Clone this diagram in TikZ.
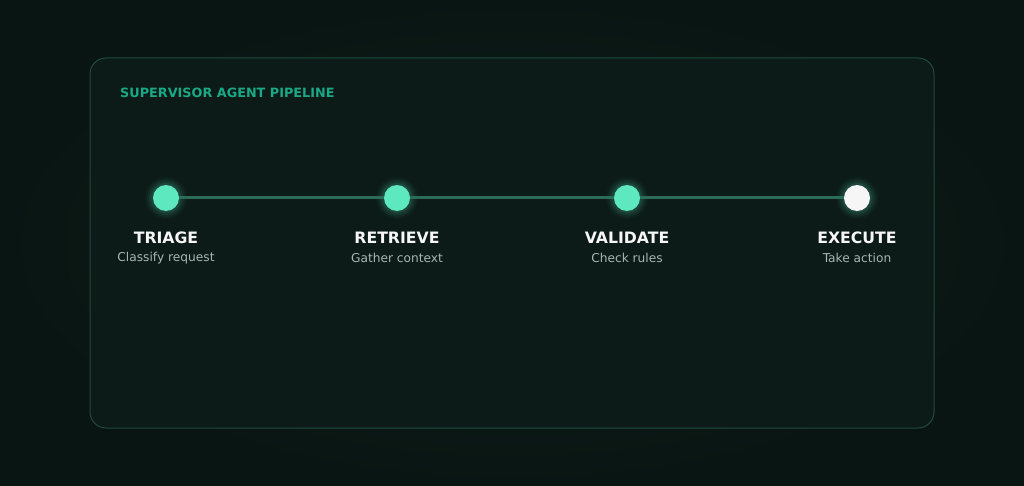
\documentclass[tikz,border=0pt]{standalone}
\usepackage{fontspec}
\setmainfont{DejaVu Sans}
\usetikzlibrary{shadings}
\definecolor{bgedge}{HTML}{091512}
\definecolor{bgmid}{HTML}{0F211B}
\definecolor{panelfill}{HTML}{0C1B17}
\definecolor{panelline}{HTML}{1F4A3C}
\definecolor{mint}{HTML}{5DE8C0}
\definecolor{linkc}{HTML}{2C6B56}
\definecolor{titlec}{HTML}{1AA886}
\definecolor{subc}{HTML}{A9B5B0}
\definecolor{offwhite}{HTML}{F5F6F5}
\tikzset{
  dot/.style={circle, minimum size=26pt, inner sep=0pt},
  stagename/.style={font=\bfseries\fontsize{15.7}{18}\selectfont, text=offwhite, anchor=center},
  stagesub/.style={font=\fontsize{12.2}{14}\selectfont, text=subc, anchor=center},
  link/.style={draw=linkc, line width=3pt},
}
\begin{document}
\begin{tikzpicture}[x=1pt,y=-1pt]
\useasboundingbox (0,0) rectangle (1024,486);
\shade[inner color=bgmid, outer color=bgedge] (0,0) rectangle (1024,486);
\draw[draw=panelline, fill=panelfill, line width=1pt, rounded corners=16pt] (90,58) rectangle (934,428);
\node[anchor=west, font=\bfseries\fontsize{12.8}{15}\selectfont, text=titlec, inner sep=0pt] (title) at (120,93) {SUPERVISOR AGENT PIPELINE};
% glows
\foreach \x/\c in {166/mint,397/mint,627/mint,857/mint}{
  \foreach \r/\o in {21/0.03,19/0.05,17/0.07,15/0.09}{
    \fill[\c, opacity=\o] (\x,198) circle (\r);
  }
}
\node[dot] (s1) at (166,198) {};
\node[dot] (s2) at (397,198) {};
\node[dot] (s3) at (627,198) {};
\node[dot] (s4) at (857,198) {};
\draw[link] (s1) -- (s2);
\draw[link] (s2) -- (s3);
\draw[link] (s3) -- (s4);
\fill[mint] (s1) circle (13);
\fill[mint] (s2) circle (13);
\fill[mint] (s3) circle (13);
\fill[offwhite] (s4) circle (13);
\node[stagename] (n1) at (166,238) {TRIAGE};
\node[stagesub] (d1) at (166,258) {Classify request};
\node[stagename] (n2) at (397,238) {RETRIEVE};
\node[stagesub] (d2) at (397,258) {Gather context};
\node[stagename] (n3) at (627,238) {VALIDATE};
\node[stagesub] (d3) at (627,258) {Check rules};
\node[stagename] (n4) at (857,238) {EXECUTE};
\node[stagesub] (d4) at (857,258) {Take action};
\end{tikzpicture}
\end{document}
